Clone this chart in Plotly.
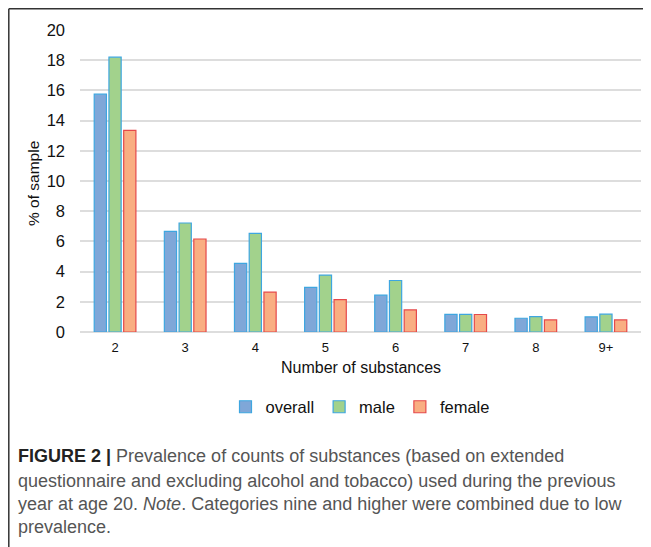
import plotly.graph_objects as go

categories = ["2", "3", "4", "5", "6", "7", "8", "9+"]
overall = [15.75, 6.66, 4.54, 2.95, 2.44, 1.17, 0.91, 1.0]
male = [18.2, 7.22, 6.53, 3.77, 3.41, 1.17, 1.02, 1.18]
female = [13.35, 6.16, 2.64, 2.15, 1.46, 1.16, 0.8, 0.8]
y_ticks = [0, 2, 4, 6, 8, 10, 12, 14, 16, 18, 20]

OFF = 8  # page body margin
W, H = 651 - OFF, 547 - OFF
# plot area in page pixels: x 80..641, y 30..332
L, R, T = 80 - OFF, 651 - 641, 30 - OFF
B = H - (332 - OFF)
pw = W - L - R
ph = H - T - B

def px(x):  # page pixel -> paper x
    return (x - OFF - L) / pw

def py(y):  # page pixel -> paper y
    return (H - B - (y - OFF)) / ph

FONT = "Liberation Sans, Arial, sans-serif"

fig = go.Figure()
fig.add_trace(go.Bar(name="overall", x=categories, y=overall,
                     marker=dict(color="#7FA7D8", line=dict(color="#3EA6E0", width=1.2))))
fig.add_trace(go.Bar(name="male", x=categories, y=male,
                     marker=dict(color="#A2D28C", line=dict(color="#3EA6E0", width=1.2))))
fig.add_trace(go.Bar(name="female", x=categories, y=female,
                     marker=dict(color="#F9AE82", line=dict(color="#E5494B", width=1.2))))

annotations = [
    dict(text="% of sample", x=px(33), y=py(183), xref="paper", yref="paper",
         xanchor="center", yanchor="middle",
         textangle=-90, showarrow=False, font=dict(size=15.5, color="#111", family=FONT)),
    dict(text="Number of substances", x=px(361), y=py(367), xref="paper", yref="paper",
         xanchor="center", yanchor="middle",
         showarrow=False, font=dict(size=16, color="#111", family=FONT)),
]
caption = [
    "<span style='color:#222'><b>FIGURE 2 | </b></span>Prevalence of counts of substances (based on extended",
    "questionnaire and excluding alcohol and tobacco) used during the previous",
    "year at age 20. <i>Note</i>. Categories nine and higher were combined due to low",
    "prevalence.",
]
cap_y = [456, 481, 504, 527]
for line, yy in zip(caption, cap_y):
    annotations.append(dict(text=line, x=px(16), y=py(yy), xref="paper", yref="paper",
                            xanchor="left", yanchor="middle", showarrow=False,
                            font=dict(size=18, color="#555555", family=FONT)))

shapes = [
    dict(type="line", xref="paper", yref="paper", x0=px(8.8), x1=px(8.8), y0=py(H + 20), y1=py(8.8),
         line=dict(color="#333", width=1.5)),
    dict(type="line", xref="paper", yref="paper", x0=px(8.8), x1=px(W + 20), y0=py(8.8), y1=py(8.8),
         line=dict(color="#333", width=1.5)),
]

fig.update_layout(
    width=W, height=H,
    margin=dict(l=L, r=R, t=T, b=B, pad=0),
    paper_bgcolor="white", plot_bgcolor="white",
    barmode="group", bargap=0.37, bargroupgap=0.17,
    font=dict(family=FONT, color="#111"),
    showlegend=True,
    legend=dict(orientation="h", x=px(360), xanchor="center", y=py(407), yanchor="middle",
                font=dict(size=16.5, color="#111", family=FONT), itemwidth=30,
                traceorder="normal"),
    annotations=annotations,
    shapes=shapes,
    xaxis=dict(type="category", showgrid=False, showline=False, zeroline=False,
               tickfont=dict(size=13, color="#111"), ticks="", ticklabelstandoff=6),
    yaxis=dict(range=[0, 20], tickvals=y_ticks, showgrid=True, gridcolor="#DDDDDD", gridwidth=1.5,
               zeroline=True, zerolinecolor="#DDDDDD", zerolinewidth=1.5, showline=False,
               tickfont=dict(size=16.5, color="#111"), ticks="", ticklabelstandoff=14),
)

fig.write_html("out.html")
